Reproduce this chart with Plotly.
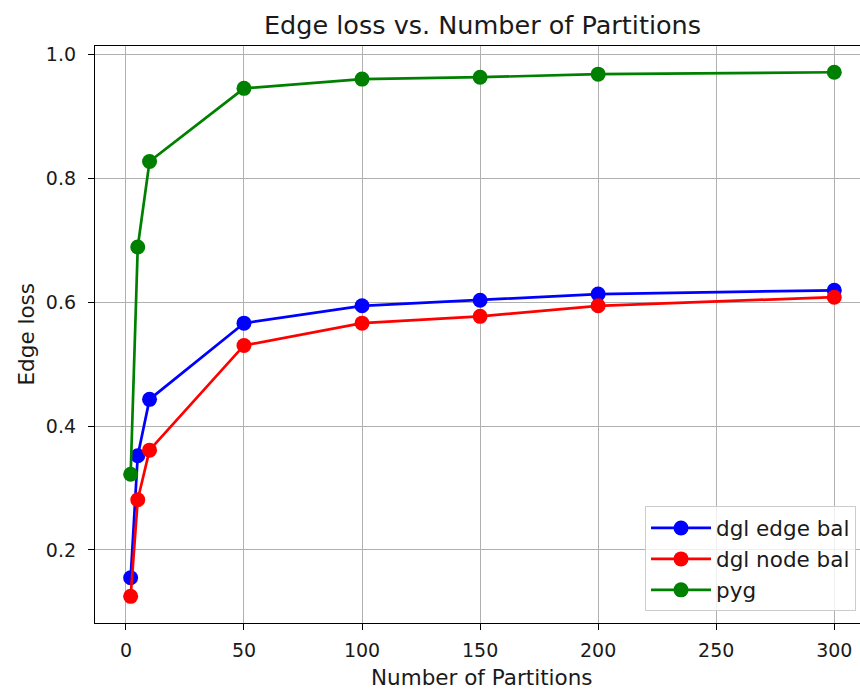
import plotly.graph_objects as go

partitions = [2, 5, 10, 50, 100, 150, 200, 300]
dgl_edge_bal = [0.155, 0.352, 0.443, 0.566, 0.594, 0.603, 0.613, 0.619]
dgl_node_bal = [0.125, 0.281, 0.361, 0.530, 0.566, 0.577, 0.594, 0.608]
pyg = [0.322, 0.689, 0.827, 0.945, 0.960, 0.963, 0.968, 0.971]

series_names = ["dgl edge bal", "dgl node bal", "pyg"]
series_values = [dgl_edge_bal, dgl_node_bal, pyg]
series_colors = ["#0000ff", "#ff0000", "#008000"]

x_ticks = [0, 50, 100, 150, 200, 250, 300]
y_ticks = [0.2, 0.4, 0.6, 0.8, 1.0]
y_tick_labels = ["0.2", "0.4", "0.6", "0.8", "1.0"]

FONT = "DejaVu Sans"
TXT = "#1a1a1a"

fig = go.Figure()
for name, vals, col in zip(series_names, series_values, series_colors):
    fig.add_trace(go.Scatter(
        x=partitions, y=vals, name=name, mode="lines+markers",
        line=dict(color=col, width=2.7),
        marker=dict(color=col, size=15),
    ))

fig.update_layout(
    width=860, height=690,
    margin=dict(l=95, r=0, t=46, b=67),
    paper_bgcolor="white", plot_bgcolor="white",
    font=dict(family=FONT, color=TXT),
    showlegend=True,
    legend=dict(
        x=0.9948, y=0.02, xanchor="right", yanchor="bottom",
        bgcolor="rgba(255,255,255,0.8)", bordercolor="#cccccc", borderwidth=1,
        font=dict(family=FONT, size=21.5, color=TXT),
        itemwidth=60, tracegroupgap=0,
    ),
    xaxis=dict(
        range=[-13.1, 310.9], tickmode="array", tickvals=x_ticks,
        showgrid=True, gridcolor="#b0b0b0", gridwidth=1.1, zeroline=False,
        showline=True, linecolor="black", linewidth=1.3, mirror=True,
        ticks="outside", ticklen=6, tickwidth=1.2, tickcolor="black",
        tickfont=dict(family=FONT, size=19, color=TXT),
        ticklabelstandoff=4,
    ),
    yaxis=dict(
        range=[0.082, 1.0134], tickmode="array", tickvals=y_ticks, ticktext=y_tick_labels,
        showgrid=True, gridcolor="#b0b0b0", gridwidth=1.1, zeroline=False,
        showline=True, linecolor="black", linewidth=1.3, mirror=False,
        ticks="outside", ticklen=6, tickwidth=1.2, tickcolor="black",
        tickfont=dict(family=FONT, size=19, color=TXT),
        ticklabelstandoff=8,
    ),
    annotations=[
        dict(text="Edge loss vs. Number of Partitions", xref="x", x=151, yref="paper", y=1,
             yshift=21, xanchor="center", yanchor="middle", showarrow=False,
             font=dict(family=FONT, size=25.5, color=TXT)),
        dict(text="Number of Partitions", xref="x", x=151, yref="paper", y=0,
             yshift=-54, xanchor="center", yanchor="middle", showarrow=False,
             font=dict(family=FONT, size=21.5, color=TXT)),
        dict(text="Edge loss", xref="paper", x=0, xshift=-69, yref="paper", y=0.5,
             xanchor="center", yanchor="middle", textangle=-90, showarrow=False,
             font=dict(family=FONT, size=21.5, color=TXT)),
    ],
)

fig.write_html("out.html")
